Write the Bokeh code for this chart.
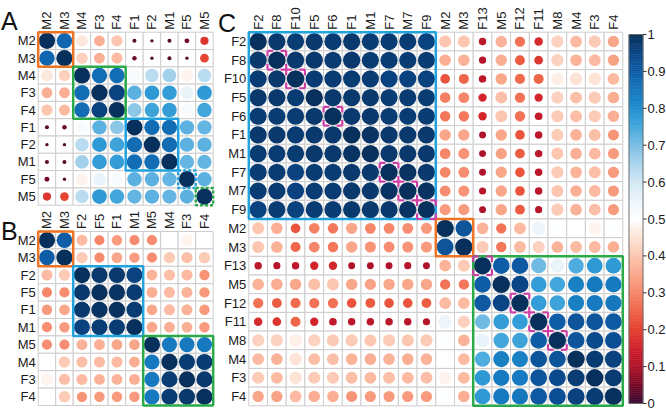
import numpy as np
from bokeh.plotting import figure
from bokeh.models import Range1d, ColumnDataSource, LinearColorMapper
from bokeh.transform import transform
from bokeh.core.properties import value
from bokeh.embed import file_html
from bokeh.resources import INLINE

# ---------------- data ----------------
A_labels = ["M2", "M3", "M4", "F3", "F4", "F1", "F2", "M1", "F5", "M5"]
A_upper = [
    [1.00, 0.88, 0.46, 0.36, 0.40, 0.03, 0.02, 0.03, 0.05, 0.18],
    [1.00, 0.42, 0.36, 0.38, 0.04, 0.02, 0.03, 0.02, 0.21],
    [1.00, 0.87, 0.87, 0.52, 0.63, 0.66, 0.48, 0.63],
    [1.00, 0.96, 0.73, 0.78, 0.77, 0.56, 0.78],
    [1.00, 0.68, 0.76, 0.77, 0.52, 0.75],
    [1.00, 0.87, 0.87, 0.73, 0.72],
    [1.00, 0.87, 0.73, 0.73],
    [1.00, 0.72, 0.72],
    [1.00, 0.73],
    [1.00],
]

B_labels = ["M2", "M3", "F2", "F5", "F1", "M1", "M5", "M4", "F3", "F4"]
B_upper = [
    [1.00, 0.90, 0.38, 0.30, 0.33, 0.31, 0.31, 0.50, 0.48, 0.50],
    [1.00, 0.41, 0.31, 0.35, 0.33, 0.31, 0.41, 0.39, 0.41],
    [1.00, 0.98, 0.98, 0.96, 0.37, 0.39, 0.38, 0.32],
    [1.00, 0.99, 0.97, 0.36, 0.38, 0.37, 0.33],
    [1.00, 0.97, 0.35, 0.38, 0.37, 0.33],
    [1.00, 0.35, 0.36, 0.36, 0.33],
    [1.00, 0.84, 0.84, 0.84],
    [1.00, 0.97, 0.97],
    [1.00, 0.98],
    [1.00],
]

C_labels = ["F2", "F8", "F10", "F5", "F6", "F1", "M1", "F7", "M7", "F9",
            "M2", "M3", "F13", "M5", "F12", "F11", "M8", "M4", "F3", "F4"]
C_upper = [
    [1.00, 0.98, 0.97, 0.98, 0.97, 0.98, 0.97, 0.97, 0.97, 0.96,
     0.40, 0.40, 0.12, 0.37, 0.27, 0.17, 0.42, 0.38, 0.41, 0.35],
    [1.00, 0.98, 0.98, 0.97, 0.98, 0.97, 0.97, 0.97, 0.97,
     0.36, 0.37, 0.11, 0.36, 0.24, 0.18, 0.42, 0.37, 0.38, 0.34],
    [1.00, 0.97, 0.97, 0.97, 0.97, 0.96, 0.96, 0.96,
     0.23, 0.25, 0.12, 0.35, 0.26, 0.25, 0.47, 0.45, 0.45, 0.38],
    [1.00, 0.98, 0.98, 0.98, 0.97, 0.97, 0.97,
     0.29, 0.30, 0.16, 0.39, 0.27, 0.16, 0.42, 0.39, 0.41, 0.36],
    [1.00, 0.98, 0.98, 0.97, 0.97, 0.97,
     0.28, 0.28, 0.16, 0.40, 0.27, 0.13, 0.41, 0.39, 0.41, 0.36],
    [1.00, 0.99, 0.98, 0.98, 0.98,
     0.35, 0.35, 0.10, 0.35, 0.23, 0.12, 0.41, 0.37, 0.39, 0.32],
    [1.00, 0.98, 0.98, 0.98,
     0.30, 0.32, 0.10, 0.34, 0.24, 0.12, 0.40, 0.36, 0.38, 0.33],
    [1.00, 0.99, 0.98,
     0.30, 0.31, 0.10, 0.35, 0.23, 0.12, 0.41, 0.37, 0.39, 0.33],
    [1.00, 0.99,
     0.31, 0.32, 0.11, 0.35, 0.23, 0.12, 0.40, 0.36, 0.38, 0.33],
    [1.00,
     0.33, 0.33, 0.10, 0.35, 0.24, 0.11, 0.41, 0.37, 0.39, 0.33],
    [1.00, 0.92, 0.37, 0.27, 0.38, 0.55, 0.50, 0.50, 0.48, 0.50],
    [1.00, 0.41, 0.28, 0.38, 0.42, 0.37, 0.38, 0.38, 0.36],
    [1.00, 0.90, 0.91, 0.71, 0.56, 0.74, 0.78, 0.78],
    [1.00, 0.95, 0.77, 0.75, 0.83, 0.84, 0.84],
    [1.00, 0.77, 0.76, 0.83, 0.84, 0.85],
    [1.00, 0.90, 0.92, 0.92, 0.91],
    [1.00, 0.92, 0.94, 0.93],
    [1.00, 0.97, 0.96],
    [1.00, 0.97],
    [1.00],
]

# highlighted groups: (first index, size, colour key, dashed)
A_boxes = [(0, 2, "orange", False), (2, 3, "green", False), (5, 3, "blue", False),
           (8, 1, "blue", True), (9, 1, "green", True)]
B_boxes = [(0, 2, "orange", False), (2, 4, "blue", False), (6, 4, "green", False)]
C_boxes = [(0, 10, "blue", False), (10, 2, "orange", False), (12, 8, "green", False)]
C_marked = [1, 2, 4, 7, 8, 9, 12, 14, 15, 16]

cb_ticks = [0, 0.1, 0.2, 0.3, 0.4, 0.5, 0.6, 0.7, 0.8, 0.9, 1]
cb_tick_labels = ["0", "0.1", "0.2", "0.3", "0.4", "0.5", "0.6", "0.7", "0.8", "0.9", "1"]

# ---------------- styling ----------------
FONT = value("Liberation Sans")
BOX_COL = {"orange": "#ec7424", "green": "#2aaa48", "blue": "#22a3de"}
MAGENTA = "#cf3ea6"
GRID_COL = "#cdcdcd"

anchors = [(0.00, "#3a0a35"), (0.05, "#770a26"), (0.10, "#b1132a"), (0.15, "#d0202c"),
           (0.20, "#e3412f"), (0.25, "#ef6448"), (0.30, "#f6876a"), (0.35, "#f9a88b"),
           (0.40, "#fcc6b0"), (0.45, "#fde3d6"), (0.50, "#ffffff"), (0.55, "#eef6fb"),
           (0.60, "#d3e9f5"), (0.65, "#abd5ed"), (0.70, "#7cbfe5"), (0.75, "#45a8dc"),
           (0.80, "#1f8fd0"), (0.85, "#1677bd"), (0.90, "#0f5ea8"), (0.95, "#0b4688"),
           (1.00, "#08305c")]


def hex2rgb(h):
    return np.array([int(h[i:i + 2], 16) for i in (1, 3, 5)], dtype=float)


pos = np.array([a[0] for a in anchors])
rgbs = np.array([hex2rgb(a[1]) for a in anchors])
palette = []
for t in np.linspace(0, 1, 256):
    c = [np.interp(t, pos, rgbs[:, k]) for k in range(3)]
    palette.append("#%02x%02x%02x" % tuple(int(round(x)) for x in c))
mapper = LinearColorMapper(palette=palette, low=0, high=1)


def full(upper):
    n = len(upper)
    m = np.zeros((n, n))
    for i, row in enumerate(upper):
        for k, v in enumerate(row):
            j = i + k
            m[i, j] = v
            m[j, i] = v
    return m


p = figure(width=666, height=410, x_range=Range1d(0, 666), y_range=Range1d(410, 0),
           output_backend="svg", toolbar_location=None,
           x_axis_location=None, y_axis_location=None, min_border=0,
           outline_line_color=None, background_fill_color="white")
p.grid.visible = False


def draw_panel(labels, upper, x0, y0, cw, ch, boxes):
    m = full(upper)
    n = len(labels)
    xs, ys, vs, rs = [], [], [], []
    for i in range(n):
        for j in range(n):
            xs.append(x0 + (j + 0.5) * cw)
            ys.append(y0 + (i + 0.5) * ch)
            vs.append(m[i, j])
            rs.append(0.5 * 0.93 * cw * m[i, j] ** 0.4)
    src = ColumnDataSource(dict(x=xs, y=ys, v=vs, r=rs))
    p.rect("x", "y", width=cw, height=ch, source=src, fill_color="white",
           line_color=GRID_COL, line_width=1)
    p.circle("x", "y", radius="r", source=src, fill_color=transform("v", mapper),
             line_color=None)
    centers_x = [x0 + (j + 0.5) * cw for j in range(n)]
    centers_y = [y0 + (i + 0.5) * ch for i in range(n)]
    p.text(x=[x0 - 2.5] * n, y=centers_y, text=labels, text_align="right",
           text_baseline="middle", text_font=FONT, text_font_size="13px",
           text_color="#1a1a1a")
    p.text(x=centers_x, y=[y0 - 2.5] * n, text=labels, angle=np.pi / 2,
           text_align="left", text_baseline="middle", text_font=FONT,
           text_font_size="13px", text_color="#1a1a1a")
    for (s, k, col, dashed) in boxes:
        p.rect(x=[x0 + (s + k / 2) * cw], y=[y0 + (s + k / 2) * ch],
               width=k * cw, height=k * ch, fill_color=None,
               line_color=BOX_COL[col], line_width=2.5,
               line_dash="3 2" if dashed else "solid")


A_geo = (37.7, 31.7, 17.5, 17.3)
B_geo = (37.7, 231.0, 17.5, 17.4)
C_geo = (248.3, 31.7, 18.7, 18.68)

draw_panel(A_labels, A_upper, *A_geo, A_boxes)
draw_panel(B_labels, B_upper, *B_geo, B_boxes)
draw_panel(C_labels, C_upper, *C_geo, C_boxes)

# magenta corner brackets in panel C
x0, y0, cw, ch = C_geo
arm = 0.3 * cw
sx0, sy0, sx1, sy1 = [], [], [], []
for k in C_marked:
    L, R = x0 + k * cw, x0 + (k + 1) * cw
    T, B = y0 + k * ch, y0 + (k + 1) * ch
    for (cx, cy, dx, dy) in [(L, T, 1, 1), (R, T, -1, 1), (L, B, 1, -1), (R, B, -1, -1)]:
        sx0 += [cx, cx]
        sy0 += [cy, cy]
        sx1 += [cx + dx * arm, cx]
        sy1 += [cy, cy + dy * arm]
p.segment(x0=sx0, y0=sy0, x1=sx1, y1=sy1, line_color=MAGENTA, line_width=2.2)

# colour bar
cb_left, cb_right, cb_bot, cb_top = 628.5, 642.5, 403.0, 34.0
steps = np.linspace(0, 1, 201)
vb = steps[:-1]
vt = steps[1:]
mid = (vb + vt) / 2
cb_src = ColumnDataSource(dict(
    left=[cb_left] * len(mid), right=[cb_right] * len(mid),
    bottom=list(cb_bot + (cb_top - cb_bot) * vb),
    top=list(cb_bot + (cb_top - cb_bot) * vt), v=list(mid)))
p.quad(left="left", right="right", bottom="bottom", top="top", source=cb_src,
       fill_color=transform("v", mapper), line_color=transform("v", mapper),
       line_width=0.6)
p.rect(x=[(cb_left + cb_right) / 2], y=[(cb_top + cb_bot) / 2],
       width=cb_right - cb_left, height=cb_bot - cb_top, fill_color=None,
       line_color="#6e6e6e", line_width=1)
ty = [cb_bot + (cb_top - cb_bot) * t for t in cb_ticks]
p.segment(x0=[cb_right] * len(ty), y0=ty, x1=[cb_right + 3.5] * len(ty), y1=ty,
          line_color="#333333", line_width=1)
p.text(x=[cb_right + 4.5] * len(ty), y=ty, text=cb_tick_labels, text_align="left",
       text_baseline="middle", text_font=FONT, text_font_size="13px",
       text_color="#1a1a1a")

# panel letters
p.text(x=[0.5, 0.5, 217.5], y=[20.5, 230.0, 22.0], text=["A", "B", "C"],
       text_align="left", text_baseline="alphabetic", text_font=FONT,
       text_font_size="25px", text_color="#111111")

open("out.html", "w").write(file_html(p, INLINE))
